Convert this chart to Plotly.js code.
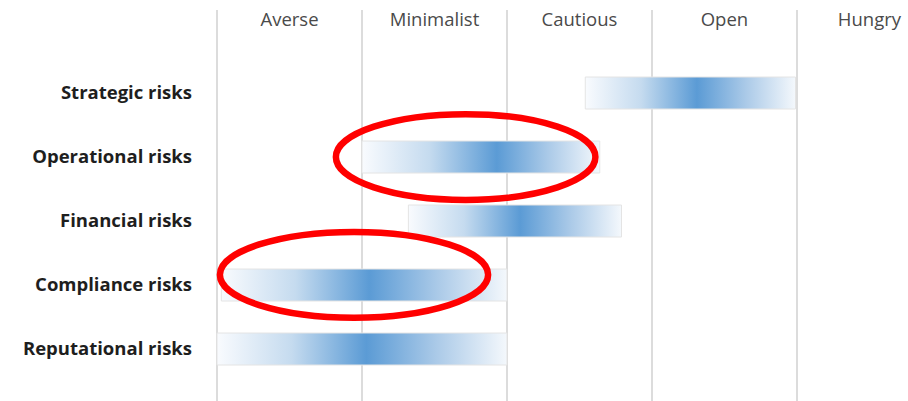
<!DOCTYPE html>
<html>
<head>
<meta charset="utf-8">
<script src="https://cdn.plot.ly/plotly-3.0.1.min.js"></script>
<style>html,body{margin:0;padding:0;background:#fff;}#chart{width:908px;height:401px;}</style>
</head>
<body>
<div id="chart"></div>
<script>
// Appetite levels (columns)
const levels = ["Averse", "Minimalist", "Cautious", "Open", "Hungry"];
// Risk categories (top to bottom)
const risks = ["Strategic risks", "Operational risks", "Financial risks", "Compliance risks", "Reputational risks"];
// Appetite range for each risk (in column units, 0 = left edge of Averse)
const rangeStart = [2.54, 1.00, 1.32, 0.03, 0.00];
const rangeEnd   = [3.99, 2.64, 2.79, 2.00, 2.00];
const rangePeak  = [3.31, 1.93, 2.09, 1.05, 1.03];
// Highlighted (circled) risks
const highlighted = ["Operational risks", "Compliance risks"];
const highlightX0 = [0.82, 0.02];
const highlightX1 = [2.61, 1.87];
const highlightYOffset = [0.0, 0.16];

const n = risks.length;
const yPos = risks.map((r, i) => n - 1 - i);
const half = 0.25;

const traces = risks.map((r, i) => {
  const x0 = rangeStart[i], x1 = rangeEnd[i];
  const y = yPos[i];
  const p = (rangePeak[i] - x0) / (x1 - x0);
  return {
    type: "scatter",
    mode: "lines",
    x: [x0, x1, x1, x0, x0],
    y: [y - half, y - half, y + half, y + half, y - half],
    fill: "toself",
    fillgradient: {
      type: "horizontal",
      colorscale: [
        [0, "#f9fbfe"],
        [p * 0.5, "#c5dbef"],
        [p, "#5b9bd5"],
        [p + (1 - p) * 0.5, "#abcae8"],
        [1, "#f4f8fc"]
      ]
    },
    line: {color: "#e4e4e4", width: 1},
    hoverinfo: "skip",
    showlegend: false
  };
});

const shapes = highlighted.map((h, k) => {
  const y = yPos[risks.indexOf(h)] + highlightYOffset[k];
  return {
    type: "circle", xref: "x", yref: "y",
    x0: highlightX0[k], x1: highlightX1[k],
    y0: y - 0.67, y1: y + 0.67,
    line: {color: "#ff0000", width: 6.5}
  };
});

const layout = {
  width: 908, height: 401,
  margin: {l: 215, r: 0, t: 10, b: 0},
  paper_bgcolor: "#fff", plot_bgcolor: "#fff",
  showlegend: false,
  font: {family: "Open Sans, sans-serif"},
  xaxis: {
    range: [-0.0138, 4.766],
    side: "top",
    tickvals: levels.map((l, i) => i + 0.5),
    ticktext: levels,
    ticks: "",
    ticklabelposition: "inside",
    tickfont: {size: 18.5, color: "#4a4a4a"},
    showgrid: false,
    zeroline: false,
    showline: false,
    minor: {tickvals: levels.map((l, i) => i), showgrid: true, gridcolor: "#dcdcdc", gridwidth: 2, ticks: ""},
    fixedrange: true
  },
  yaxis: {
    range: [-0.8125, 5.297],
    tickvals: yPos,
    ticktext: risks,
    ticks: "",
    ticklabelstandoff: 22,
    tickfont: {size: 18.5, color: "#1e1e1e", weight: "bold"},
    showgrid: false,
    zeroline: false,
    showline: false,
    fixedrange: true
  },
  shapes: shapes
};

Plotly.newPlot("chart", traces, layout, {displayModeBar: false, staticPlot: true});
</script>
</body>
</html>
